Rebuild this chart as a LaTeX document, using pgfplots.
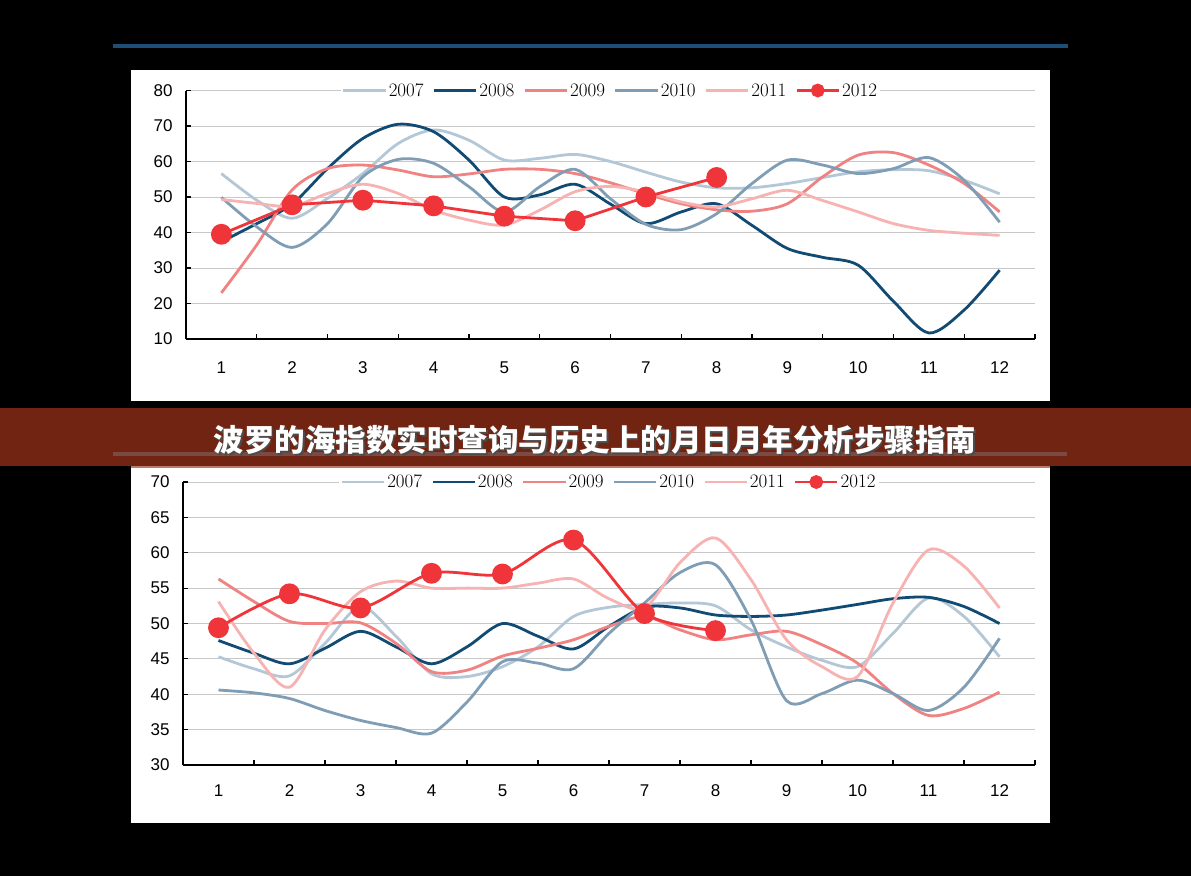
\documentclass[border=0pt]{standalone}
\usepackage{pgfplots}
\pgfplotsset{compat=1.18}
\usepackage{pgfplotstable}
\usepackage{fontspec}
\newfontfamily\arial{Liberation Sans}
\newfontfamily\cjk{Noto Sans CJK SC}
\definecolor{cA}{HTML}{B4C7D7}
\definecolor{cB}{HTML}{114A72}
\definecolor{cC}{HTML}{F08282}
\definecolor{cD}{HTML}{7F9DB5}
\definecolor{cE}{HTML}{F7B2B2}
\definecolor{cF}{HTML}{F0353A}
\definecolor{banner}{HTML}{722412}
\definecolor{bline}{HTML}{7A4B45}
\definecolor{bstrip}{HTML}{C07A6A}
\definecolor{topline}{HTML}{1C4E78}
\definecolor{gridc}{HTML}{C8C8C8}

% ---- top chart data ----
\pgfplotstableread{
x y
1 56.6
1.5 49.1
2 44
2.5 49.6
3 56.6
3.5 65.1
4 68.9
4.5 66
5 60.4
5.5 60.9
6 62
6.5 60
7 57
7.5 54.2
8 52.6
8.5 52.6
9 53.8
9.5 55.5
10 57.1
10.5 57.7
11 57.4
11.5 54.7
12 50.9
}\TA
\pgfplotstableread{
x y
1 37.4
1.5 42.5
2 48
2.5 58
3 66.5
3.5 70.5
4 68.4
4.5 60.4
5 50
5.5 50.6
6 53.6
6.5 48
7 42.5
7.5 45.8
8 48.1
8.5 42
9 35.5
9.5 33
10 30.8
10.5 20.6
11 11.7
11.5 18.2
12 29.4
}\TB
\pgfplotstableread{
x y
1 23
1.5 36.5
2 52
2.5 58
3 59
3.5 57.6
4 55.7
4.5 56.5
5 57.8
5.5 57.8
6 56.6
6.5 54
7 50.9
7.5 48.1
8 46.4
8.5 46
9 48.1
9.5 55.7
10 61.8
10.5 62.5
11 59
11.5 53.8
12 45.8
}\TC
\pgfplotstableread{
x y
1 49.9
1.5 41.6
2 35.8
2.5 42.5
3 55.7
3.5 60.6
4 59.5
4.5 52.9
5 45.8
5.5 52.9
6 57.8
6.5 49.5
7 42.3
7.5 40.8
8 45.3
8.5 53.8
9 60.4
9.5 59
10 56.6
10.5 58
11 61.1
11.5 54.7
12 42.9
}\TD
\pgfplotstableread{
x y
1 49.3
1.5 48.2
2 47.4
2.5 51
3 53.6
3.5 51
4 46.3
4.5 43.5
5 42.1
5.5 46.3
6 51.5
6.5 53
7 51.4
7.5 48.6
8 47.2
8.5 49.5
9 51.9
9.5 49
10 45.8
10.5 42.5
11 40.6
11.5 39.8
12 39.2
}\TE
\pgfplotstableread{
x y
1 39.5
2 47.8
3 49.1
4 47.5
5 44.6
6 43.3
7 50
8 55.5
}\TF

% ---- bottom chart data ----
\pgfplotstableread{
x y
1 45.3
1.5 43.6
2 42.6
2.5 47.2
3 52.4
3.5 48.2
4 42.9
4.5 42.5
5 43.9
5.5 46.7
6 51
6.5 52.3
7 52.7
7.5 52.9
8 52.5
8.5 49.1
9 46.7
9.5 44.8
10 43.9
10.5 48.6
11 53.6
11.5 51
12 45.3
}\BA
\pgfplotstableread{
x y
1 47.6
1.5 45.8
2 44.3
2.5 46.5
3 48.9
3.5 46.7
4 44.3
4.5 46.7
5 50
5.5 48.2
6 46.4
6.5 49.6
7 52.3
7.5 52.2
8 51.2
8.5 51
9 51.2
9.5 51.9
10 52.7
10.5 53.5
11 53.7
11.5 52.4
12 50
}\BB
\pgfplotstableread{
x y
1 56.3
1.5 53.1
2 50.3
2.5 50
3 50.1
3.5 47.2
4 43.2
4.5 43.4
5 45.4
5.5 46.5
6 47.7
6.5 49.6
7 51
7.5 49.1
8 47.7
8.5 48.4
9 48.9
9.5 47
10 44.4
10.5 40.1
11 37
11.5 38
12 40.3
}\BC
\pgfplotstableread{
x y
1 40.6
1.5 40.2
2 39.4
2.5 37.7
3 36.3
3.5 35.3
4 34.5
4.5 38.9
5 44.6
5.5 44.4
6 43.6
6.5 48.6
7 52.9
7.5 57.2
8 58.3
8.5 50.5
9 39.1
9.5 40.1
10 42
10.5 40.1
11 37.7
11.5 41
12 47.9
}\BD
\pgfplotstableread{
x y
1 53.1
1.5 45.8
2 41
2.5 49.1
3 54.5
3.5 56
4 55
4.5 55
5 55
5.5 55.7
6 56.3
6.5 53.5
7 52.2
7.5 58.6
8 62.1
8.5 56.2
9 47.7
9.5 43.9
10 42.5
10.5 52.9
11 60.4
11.5 58.1
12 52.2
}\BE
\pgfplotstableread{
x y
1 49.4
2 54.2
3 52.2
4 57.1
5 57
6 61.8
7 51.4
8 49
}\BF

\pgfplotsset{
  chartbase/.style={
    scale only axis,
    anchor=south west,
    xmin=0.5, xmax=12.5,
    axis lines*=left,
    axis line style={black, line width=1.4pt},
    xtick={1,...,12},
    major x tick style={draw=none},
    minor xtick={0.5,1.5,...,12.5},
    minor tick length=5pt,
    minor x tick style={black, line width=1.2pt},
    major y tick style={black, line width=1.2pt},
    major tick length=5pt,
    ymajorgrids,
    major grid style={gridc, line width=0.9pt},
    extra y tick style={grid style={gridc!25, line width=0.9pt}},
    /pgf/number format/assume math mode=true,
    tick label style={font=\arial\fontsize{17}{17}\selectfont},
    yticklabel style={xshift=-10pt},
    clip=false,
    legend columns=6,
    legend style={at={(0.5,1)}, anchor=center, draw=none, fill=white,
      inner sep=1pt, font=\fontsize{19}{19}\selectfont,
      /tikz/every even column/.append style={column sep=7pt}},
    legend image code/.code={\draw[mark repeat=2,mark phase=2,#1] plot coordinates {(0pt,0pt) (21pt,0pt) (42pt,0pt)};},
  },
  sA/.style={cA, line width=2.8pt, smooth, no markers},
  sB/.style={cB, line width=2.8pt, smooth, no markers},
  sC/.style={cC, line width=2.8pt, smooth, no markers},
  sD/.style={cD, line width=2.8pt, smooth, no markers},
  sE/.style={cE, line width=2.8pt, smooth, no markers},
}

\begin{document}
\begin{tikzpicture}[x=1pt,y=1pt]
\fill[black] (0,0) rectangle (1191,-876);
\fill[topline] (113,-43.5) rectangle (1068,-47.5);
\fill[white] (131,-70) rectangle (1050,-401);
\fill[white] (131,-467) rectangle (1050,-823);
\fill[banner] (0,-408) rectangle (1191,-466);
\fill[bline] (113,-452) rectangle (1067,-456);
\fill[bstrip] (131,-466) rectangle (1050,-468);
\node[text=black!70, font=\cjk\bfseries\fontsize{30.5}{30.5}\selectfont] at (596.5,-441.5) {波罗的海指数实时查询与历史上的月日月年分析步骤指南};
\node[text=white, font=\cjk\bfseries\fontsize{30.5}{30.5}\selectfont] at (595,-440) {波罗的海指数实时查询与历史上的月日月年分析步骤指南};

% ---- top chart ----
\begin{axis}[chartbase, at={(186pt,-339pt)}, width=849pt, height=248.5pt,
  ymin=10, ymax=80, ytick={10,20,...,70}, extra y ticks={80},
  xticklabel style={yshift=-19pt}]
\addlegendimage{sA}\addlegendentry{2007}
\addlegendimage{sB}\addlegendentry{2008}
\addlegendimage{sC}\addlegendentry{2009}
\addlegendimage{sD}\addlegendentry{2010}
\addlegendimage{sE}\addlegendentry{2011}
\addlegendimage{cF, line width=2.8pt, mark=*, mark size=5.5pt}\addlegendentry{2012}
\addplot[sA, forget plot] table {\TA};
\addplot[sB, forget plot] table {\TB};
\addplot[sC, forget plot] table {\TC};
\addplot[sD, forget plot] table {\TD};
\addplot[sE, forget plot] table {\TE};
\addplot[cF, line width=2.8pt, mark=*, mark size=9pt, forget plot] table {\TF};
\end{axis}

% ---- bottom chart ----
\begin{axis}[chartbase, at={(183pt,-765pt)}, width=852pt, height=283pt,
  ymin=30, ymax=70, ytick={30,35,...,65}, extra y ticks={70},
  xticklabel style={yshift=-16pt}]
\addlegendimage{sA}\addlegendentry{2007}
\addlegendimage{sB}\addlegendentry{2008}
\addlegendimage{sC}\addlegendentry{2009}
\addlegendimage{sD}\addlegendentry{2010}
\addlegendimage{sE}\addlegendentry{2011}
\addlegendimage{cF, line width=2.8pt, mark=*, mark size=5.5pt}\addlegendentry{2012}
\addplot[sA, forget plot] table {\BA};
\addplot[sB, forget plot] table {\BB};
\addplot[sC, forget plot] table {\BC};
\addplot[sD, forget plot] table {\BD};
\addplot[sE, forget plot] table {\BE};
\addplot[cF, line width=2.8pt, smooth, mark=*, mark size=9pt, forget plot] table {\BF};
\end{axis}
\end{tikzpicture}
\end{document}
